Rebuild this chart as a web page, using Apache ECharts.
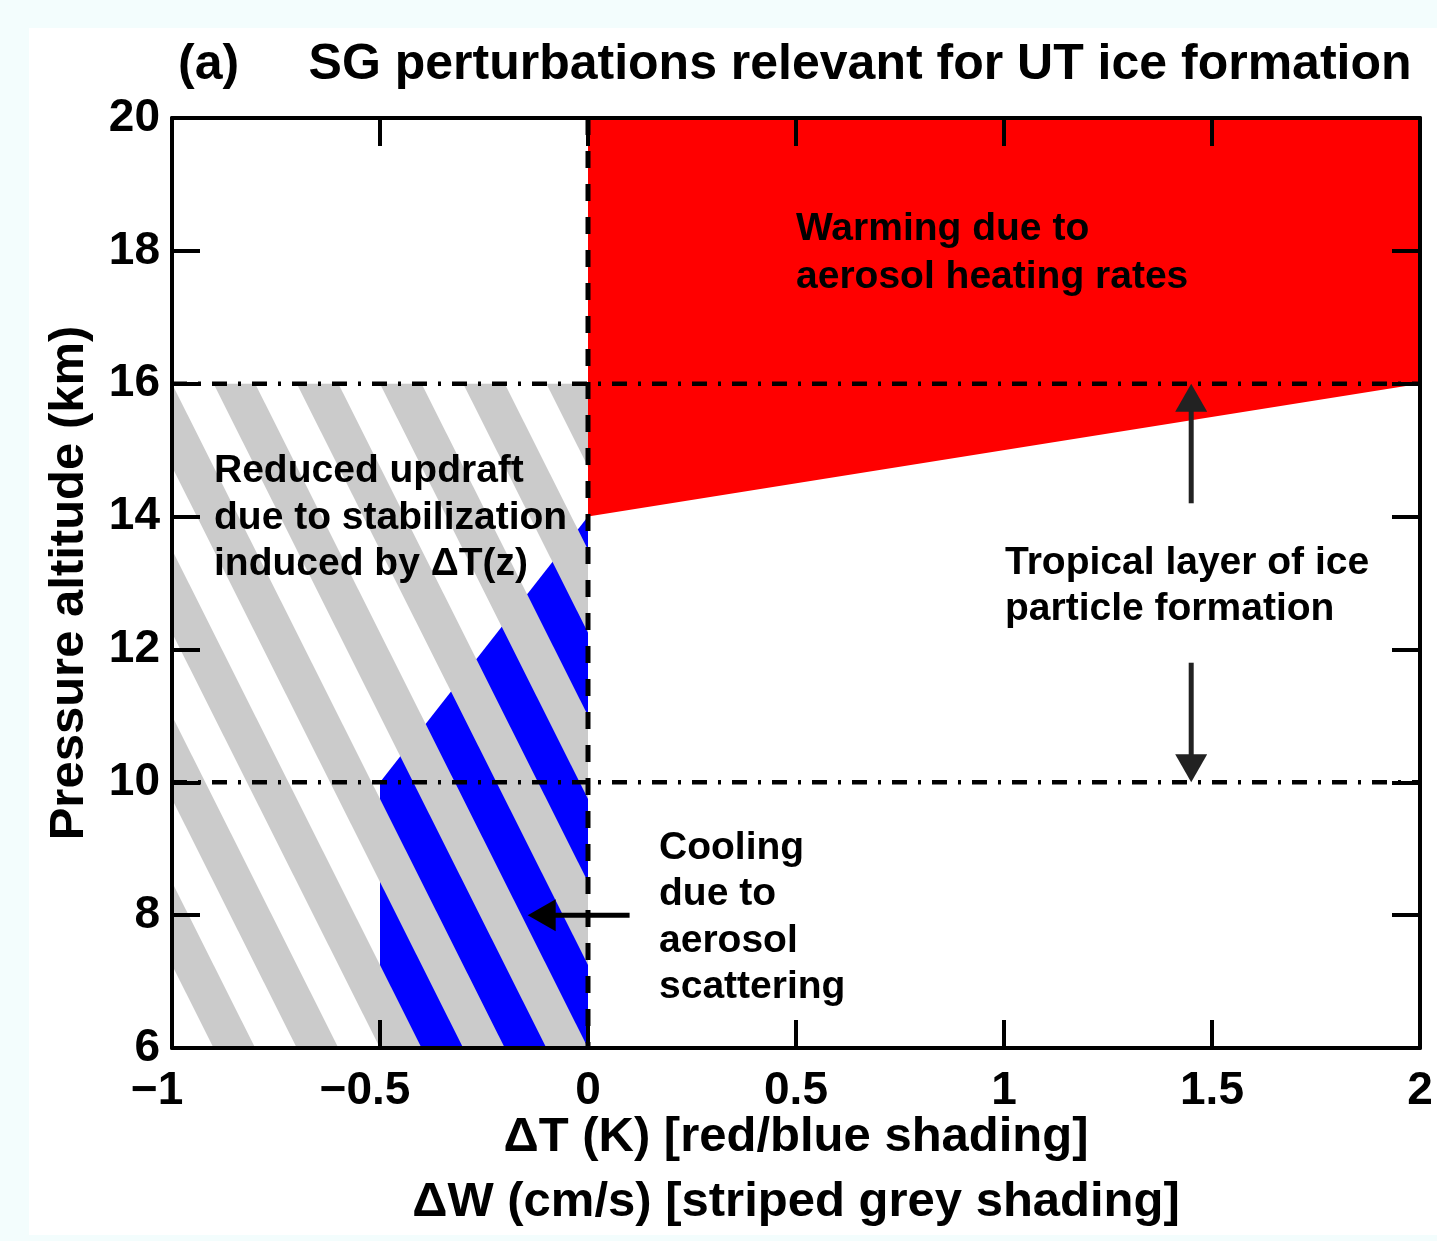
<!DOCTYPE html>
<html>
<head>
<meta charset="utf-8">
<script src="https://cdn.jsdelivr.net/npm/echarts@6/dist/echarts.min.js"></script>
<style>
html,body{margin:0;padding:0;background:#f3fdfd;}
#main{width:1437px;height:1241px;}
</style>
</head>
<body>
<div id="main"></div>
<script>
// ---- data ----
var xTicks = [-1, -0.5, 0, 0.5, 1, 1.5, 2];
var yTicks = [6, 8, 10, 12, 14, 16, 18, 20];
// warming (red)
var warmX = [0, 2, 2, 0];
var warmY = [20, 20, 16, 14];
// cooling (blue)
var coolX = [-0.5, -0.5, 0, 0];
var coolY = [6, 10, 14, 6];
// reduced updraft (striped grey box)
var updraftX = [-1, 0];
var updraftY = [6, 16];
// tropical layer of ice particle formation
var layerY = [10, 16];
var layerX = [-1, 2];
// dashed zero line
var zeroX = [0, 0];
var zeroY = [6, 20];
// arrows: from [x, y] to [x, y]
var arrowFrom = [[1.45, 14.2], [1.45, 11.8], [0.1, 8]];
var arrowTo = [[1.45, 16], [1.45, 10], [-0.145, 8]];
var arrowColor = ['#222222', '#222222', '#000000'];

// ---- styles ----
var FONT = '"Liberation Sans", Arial, Helvetica, sans-serif';
var STRIPE_PERIOD = 0.2;   // along x
var STRIPE_WIDTH = 0.1;
var STRIPE_SLOPE = 0.08;   // x shift per km
var STRIPE_PHASE = -0.9;   // grey stripe start at the top edge

var chart = echarts.init(document.getElementById('main'));

function clipPoly(poly, f) {
    var out = [];
    for (var i = 0; i < poly.length; i++) {
        var a = poly[i], b = poly[(i + 1) % poly.length];
        var fa = f(a), fb = f(b);
        if (fa >= 0) out.push(a);
        if ((fa >= 0) !== (fb >= 0)) {
            var t = fa / (fa - fb);
            out.push([a[0] + t * (b[0] - a[0]), a[1] + t * (b[1] - a[1])]);
        }
    }
    return out;
}

function polyItem(xs, ys, color) {
    return function (params, api) {
        var pts = [];
        for (var i = 0; i < xs.length; i++) pts.push(api.coord([xs[i], ys[i]]));
        return {type: 'polygon', shape: {points: pts}, style: {fill: color, stroke: null}};
    };
}

function stripeItem(params, api) {
    var x0 = updraftX[0], x1 = updraftX[1], y0 = updraftY[0], y1 = updraftY[1];
    var rect = [[x0, y0], [x1, y0], [x1, y1], [x0, y1]];
    var u = function (p) { return p[0] + STRIPE_SLOPE * (p[1] - y1); };
    var uMin = x0 + STRIPE_SLOPE * (y0 - y1), uMax = x1;
    var kMin = Math.floor((uMin - STRIPE_PHASE) / STRIPE_PERIOD) - 1;
    var kMax = Math.ceil((uMax - STRIPE_PHASE) / STRIPE_PERIOD) + 1;
    var children = [];
    for (var k = kMin; k <= kMax; k++) {
        var lo = STRIPE_PHASE + k * STRIPE_PERIOD, hi = lo + STRIPE_WIDTH;
        var poly = clipPoly(rect, function (p) { return u(p) - lo; });
        poly = clipPoly(poly, function (p) { return hi - u(p); });
        if (poly.length < 3) continue;
        children.push({
            type: 'polygon',
            shape: {points: poly.map(function (p) { return api.coord(p); })},
            style: {fill: '#cbcbcb', stroke: null}
        });
    }
    return {type: 'group', children: children};
}

function arrowItem(params, api) {
    var i = params.dataIndex;
    var p0 = api.coord(arrowFrom[i]), p1 = api.coord(arrowTo[i]);
    var dx = p1[0] - p0[0], dy = p1[1] - p0[1];
    var len = Math.sqrt(dx * dx + dy * dy);
    var ux = dx / len, uy = dy / len, nx = -uy, ny = ux;
    var headLen = 28, headW = 32;
    var bx = p1[0] - ux * headLen, by = p1[1] - uy * headLen;
    return {
        type: 'group',
        children: [
            {type: 'line', shape: {x1: p0[0], y1: p0[1], x2: bx + ux * 2, y2: by + uy * 2},
             style: {stroke: arrowColor[i], lineWidth: 5}},
            {type: 'polygon', shape: {points: [[p1[0], p1[1]],
                [bx + nx * headW / 2, by + ny * headW / 2], [bx - nx * headW / 2, by - ny * headW / 2]]},
             style: {fill: arrowColor[i], stroke: null}}
        ]
    };
}

function fmtX(v) {
    if (v < 0) return '{neg|' + String(v).replace('-', '\u2212') + '}';
    return String(v);
}

var axisCommon = {
    z: 10,
    axisLine: {show: true, onZero: false, lineStyle: {color: '#000', width: 4}},
    axisTick: {show: true, inside: true, length: 28, lineStyle: {color: '#000', width: 4}},
    splitLine: {show: false}
};

var labelStyle = {color: '#000', fontSize: 46, fontWeight: 'bold', fontFamily: FONT};

var option = {
    backgroundColor: '#f3fdfd',
    animation: false,
    title: {
        text: '(a)     SG perturbations relevant for UT ice formation',
        left: 173,
        top: 35,
        textStyle: {color: '#000', fontSize: 50, fontWeight: 'bold', fontFamily: FONT}
    },
    grid: {left: 172, right: 17, top: 118, bottom: 193, outerBoundsMode: 'none', containLabel: false},
    xAxis: [
        Object.assign({}, axisCommon, {
            type: 'value', position: 'bottom', min: -1, max: 2, interval: 0.5,
            axisLabel: Object.assign({}, labelStyle, {margin: 20, formatter: fmtX,
                rich: {neg: Object.assign({}, labelStyle, {padding: [0, 30, 0, 0]})}}),
            name: '\u0394T (K) [red/blue shading]\n\u0394W (cm/s) [striped grey shading]',
            nameLocation: 'middle',
            nameGap: 57,
            nameMoveOverlap: false,
            nameTextStyle: {color: '#000', fontSize: 49, fontWeight: 'bold', fontFamily: FONT, lineHeight: 65}
        }),
        Object.assign({}, axisCommon, {
            type: 'value', position: 'top', min: -1, max: 2, interval: 0.5,
            axisLabel: {show: false}
        })
    ],
    yAxis: [
        Object.assign({}, axisCommon, {
            type: 'value', position: 'left', min: 6, max: 20, interval: 2,
            axisLabel: Object.assign({}, labelStyle, {margin: 12}),
            name: 'Pressure altitude (km)',
            nameLocation: 'middle',
            nameGap: 78,
            nameMoveOverlap: false,
            nameTextStyle: {color: '#000', fontSize: 49, fontWeight: 'bold', fontFamily: FONT}
        }),
        Object.assign({}, axisCommon, {
            type: 'value', position: 'right', min: 6, max: 20, interval: 2,
            axisLabel: {show: false}
        })
    ],
    graphic: [
        {type: 'rect', z: -100, shape: {x: 29, y: 28, width: 1420, height: 1207}, style: {fill: '#ffffff'}},
        {type: 'text', z: 100, left: 796, top: 205,
         style: {text: 'Warming due to\naerosol heating rates', fill: '#000', fontSize: 39, fontWeight: 'bold', fontFamily: FONT, lineHeight: 48}},
        {type: 'text', z: 100, left: 214, top: 448,
         style: {text: 'Reduced updraft\ndue to stabilization\ninduced by \u0394T(z)', fill: '#000', fontSize: 39, fontWeight: 'bold', fontFamily: FONT, lineHeight: 46.5}},
        {type: 'text', z: 100, left: 1005, top: 540,
         style: {text: 'Tropical layer of ice\nparticle formation', fill: '#000', fontSize: 39, fontWeight: 'bold', fontFamily: FONT, lineHeight: 46}},
        {type: 'text', z: 100, left: 659, top: 825,
         style: {text: 'Cooling\ndue to\naerosol\nscattering', fill: '#000', fontSize: 39, fontWeight: 'bold', fontFamily: FONT, lineHeight: 46.3}}
    ],
    series: [
        {type: 'custom', name: 'warming', z: 2, data: [[0, 20]], renderItem: polyItem(warmX, warmY, '#ff0000')},
        {type: 'custom', name: 'cooling', z: 2, data: [[0, 6]], renderItem: polyItem(coolX, coolY, '#0000ff')},
        {type: 'custom', name: 'updraft', z: 3, data: [[-1, 6]], renderItem: stripeItem},
        {type: 'line', z: 5, showSymbol: false, silent: true,
         data: [[layerX[0], layerY[1]], [layerX[1], layerY[1]]],
         lineStyle: {color: '#000', width: 4.5, type: [15, 11, 3, 11]}},
        {type: 'line', z: 5, showSymbol: false, silent: true,
         data: [[layerX[0], layerY[0]], [layerX[1], layerY[0]]],
         lineStyle: {color: '#000', width: 4.5, type: [15, 11, 3, 11]}},
        {type: 'line', z: 5, showSymbol: false, silent: true,
         data: [[zeroX[0], zeroY[1]], [zeroX[1], zeroY[0]]],
         lineStyle: {color: '#000', width: 5, type: [17, 16]}},
        {type: 'custom', name: 'arrows', z: 6, data: arrowFrom.map(function (p) { return p; }), renderItem: arrowItem}
    ]
};

chart.setOption(option);
</script>
</body>
</html>
